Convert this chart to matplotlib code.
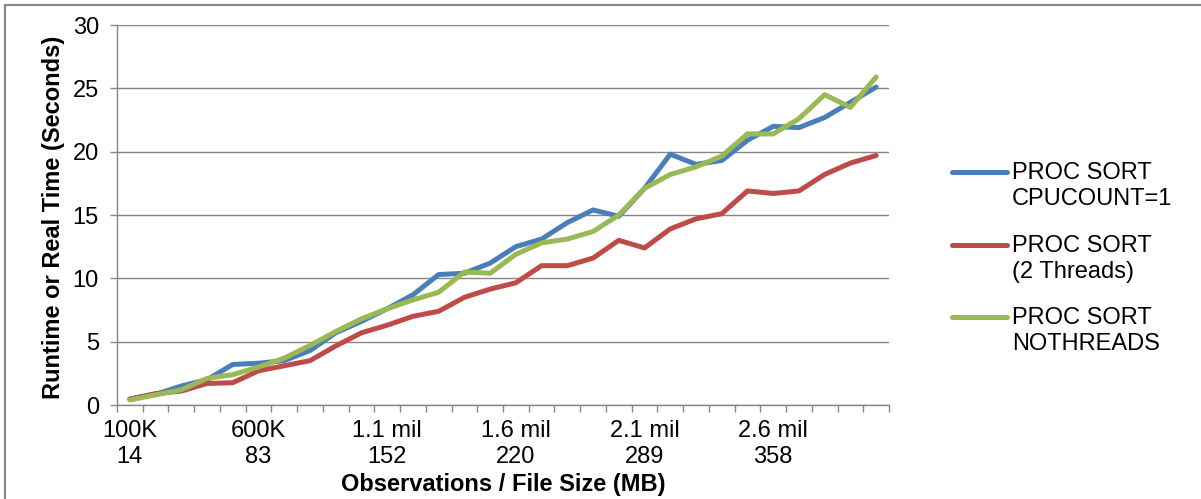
import numpy as np
import matplotlib
matplotlib.use("Agg")
import matplotlib.pyplot as plt
from matplotlib.lines import Line2D

plt.rcParams['font.family'] = ['Liberation Sans', 'DejaVu Sans']

# ---- data ----
n_points = 30
obs_labels = ["100K", "600K", "1.1 mil", "1.6 mil", "2.1 mil", "2.6 mil"]
size_labels = ["14", "83", "152", "220", "289", "358"]
label_every = 5

series_names = ["PROC SORT\nCPUCOUNT=1", "PROC SORT\n(2 Threads)", "PROC SORT\nNOTHREADS"]
cpucount1 = [0.47, 0.84, 1.5, 2.0, 3.2, 3.3, 3.5, 4.3, 5.7, 6.6,
             7.6, 8.7, 10.3, 10.4, 11.2, 12.5, 13.1, 14.4, 15.4, 14.9,
             17.1, 19.8, 19.0, 19.3, 20.9, 22.0, 21.9, 22.7, 23.9, 25.1]
two_threads = [0.47, 0.9, 1.1, 1.7, 1.76, 2.7, 3.1, 3.5, 4.66, 5.7,
               6.3, 7.0, 7.4, 8.5, 9.15, 9.65, 11.0, 11.0, 11.6, 13.0,
               12.4, 13.9, 14.7, 15.1, 16.9, 16.7, 16.9, 18.2, 19.1, 19.7]
nothreads = [0.4, 0.8, 1.2, 2.1, 2.4, 3.0, 3.7, 4.7, 5.8, 6.8,
             7.6, 8.3, 8.9, 10.5, 10.4, 11.9, 12.8, 13.1, 13.7, 15.0,
             17.1, 18.2, 18.8, 19.65, 21.4, 21.4, 22.6, 24.5, 23.5, 25.9]
colors = ["#4A7EBB", "#BE4B48", "#98B954"]

W, H = 1201, 499
fig = plt.figure(figsize=(W / 100, H / 100), dpi=100)
ax = fig.add_axes([117 / W, 1 - 405 / H, 772 / W, 380 / H])

x = np.arange(n_points)
for vals, c in zip([cpucount1, two_threads, nothreads], colors):
    ax.plot(x, vals, color=c, lw=3.6, solid_capstyle='round', solid_joinstyle='round', zorder=3)

grid_c = "#868686"
ax.set_xlim(-0.5, n_points - 0.5)
ax.set_ylim(0, 30)
ax.set_yticks(np.arange(0, 31, 5))
ax.yaxis.grid(True, color=grid_c, lw=1.0)
ax.set_axisbelow(True)
for s in ['top', 'right']:
    ax.spines[s].set_visible(False)
for s in ['left', 'bottom']:
    ax.spines[s].set_color(grid_c)
    ax.spines[s].set_linewidth(1.0)

# category boundary ticks
ax.set_xticks(np.arange(-0.5, n_points, 1.0))
ax.set_xticklabels([])
ax.tick_params(axis='x', which='major', direction='out', length=5, width=1.0, color=grid_c)
# labels at every 5th category
ax.set_xticks(x[::label_every], minor=True)
ax.set_xticklabels([f"{o}\n{s}" for o, s in zip(obs_labels, size_labels)], minor=True, fontsize=17)
ax.tick_params(axis='x', which='minor', length=0, pad=11)
ax.tick_params(axis='y', direction='out', length=5, width=1.0, color=grid_c, labelsize=17, pad=8)

ax.set_xlabel("Observations / File Size (MB)", fontsize=17, fontweight='bold')
ax.xaxis.set_label_coords(0.5, -0.178)
ax.set_ylabel("Runtime or Real Time (Seconds)", fontsize=17, fontweight='bold')
ax.yaxis.set_label_coords(-0.068, 0.493)

# legend (drawn manually so the line sits next to the first text line)
leg_y = [172, 245, 317]
for name, c, yy in zip(series_names, colors, leg_y):
    fy = 1 - yy / H
    fig.add_artist(Line2D([952 / W, 1007 / W], [fy, fy], transform=fig.transFigure,
                          color=c, lw=3.6, solid_capstyle='round'))
    fig.text(1012 / W, 1 - (yy + 14) / H, name, fontsize=17, va='center', ha='left',
             linespacing=1.2)

# chart border (top and left visible)
fig.add_artist(Line2D([5 / W, 1.0], [1 - 5 / H, 1 - 5 / H], transform=fig.transFigure,
                      color=grid_c, lw=1.5))
fig.add_artist(Line2D([5 / W, 5 / W], [0, 1 - 5 / H], transform=fig.transFigure,
                      color=grid_c, lw=1.5))

fig.savefig("out.png", dpi=100)
